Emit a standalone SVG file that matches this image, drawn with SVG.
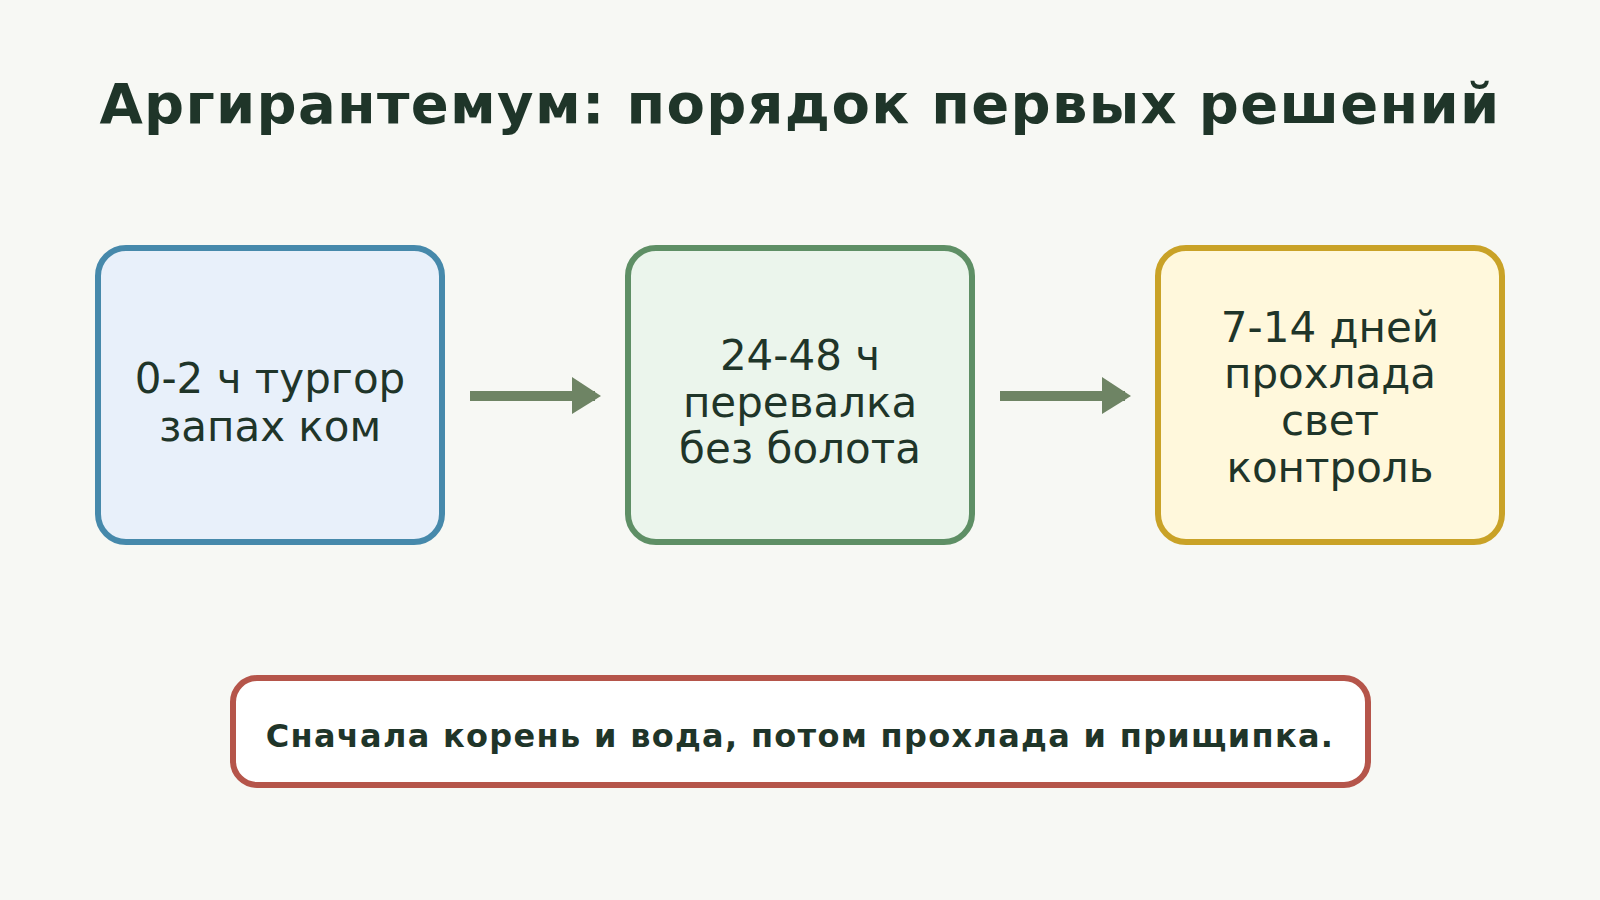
<svg xmlns="http://www.w3.org/2000/svg" width="1600" height="900" viewBox="0 0 1600 900">
<style>
.t{font-family:"DejaVu Sans","Noto Sans",sans-serif;fill:#1f3529;text-anchor:middle}
.title{font-size:56px;font-weight:bold;letter-spacing:1.3px}
.lbl{font-size:42px}
.note{font-size:32px;font-weight:bold;letter-spacing:1.3px}
.box{stroke-width:6}
.conn{stroke:#6e8464;stroke-width:10;fill:none}
.head{fill:#6e8464}
</style>
<rect width="1600" height="900" fill="#f7f8f4"/>
<text class="t title" x="800" y="123">Аргирантемум: порядок первых решений</text>
<g id="connectors">
<line class="conn" x1="470" y1="396" x2="595" y2="396"/>
<polygon class="head" points="572,377 601,396 572,414"/>
<line class="conn" x1="1000" y1="396" x2="1125" y2="396"/>
<polygon class="head" points="1102,377 1131,396 1102,414"/>
</g>
<g id="node1">
<rect class="box" x="98" y="248" width="344" height="294" rx="28" fill="#e8f0fa" stroke="#4689ab"/>
<text class="t lbl" x="270" y="393">0-2 ч тургор</text>
<text class="t lbl" x="270" y="441">запах ком</text>
</g>
<g id="node2">
<rect class="box" x="628" y="248" width="344" height="294" rx="28" fill="#ebf5ec" stroke="#5e8f65"/>
<text class="t lbl" x="800" y="370">24-48 ч</text>
<text class="t lbl" x="800" y="417">перевалка</text>
<text class="t lbl" x="800" y="463">без болота</text>
</g>
<g id="node3">
<rect class="box" x="1158" y="248" width="344" height="294" rx="28" fill="#fff8dc" stroke="#c9a227"/>
<text class="t lbl" x="1330" y="342">7-14 дней</text>
<text class="t lbl" x="1330" y="388">прохлада</text>
<text class="t lbl" x="1330" y="435">свет</text>
<text class="t lbl" x="1330" y="482">контроль</text>
</g>
<g id="note">
<rect class="box" x="233" y="678" width="1135" height="107" rx="24" fill="#ffffff" stroke="#b5554a"/>
<text class="t note" x="800" y="747">Сначала корень и вода, потом прохлада и прищипка.</text>
</g>
</svg>
